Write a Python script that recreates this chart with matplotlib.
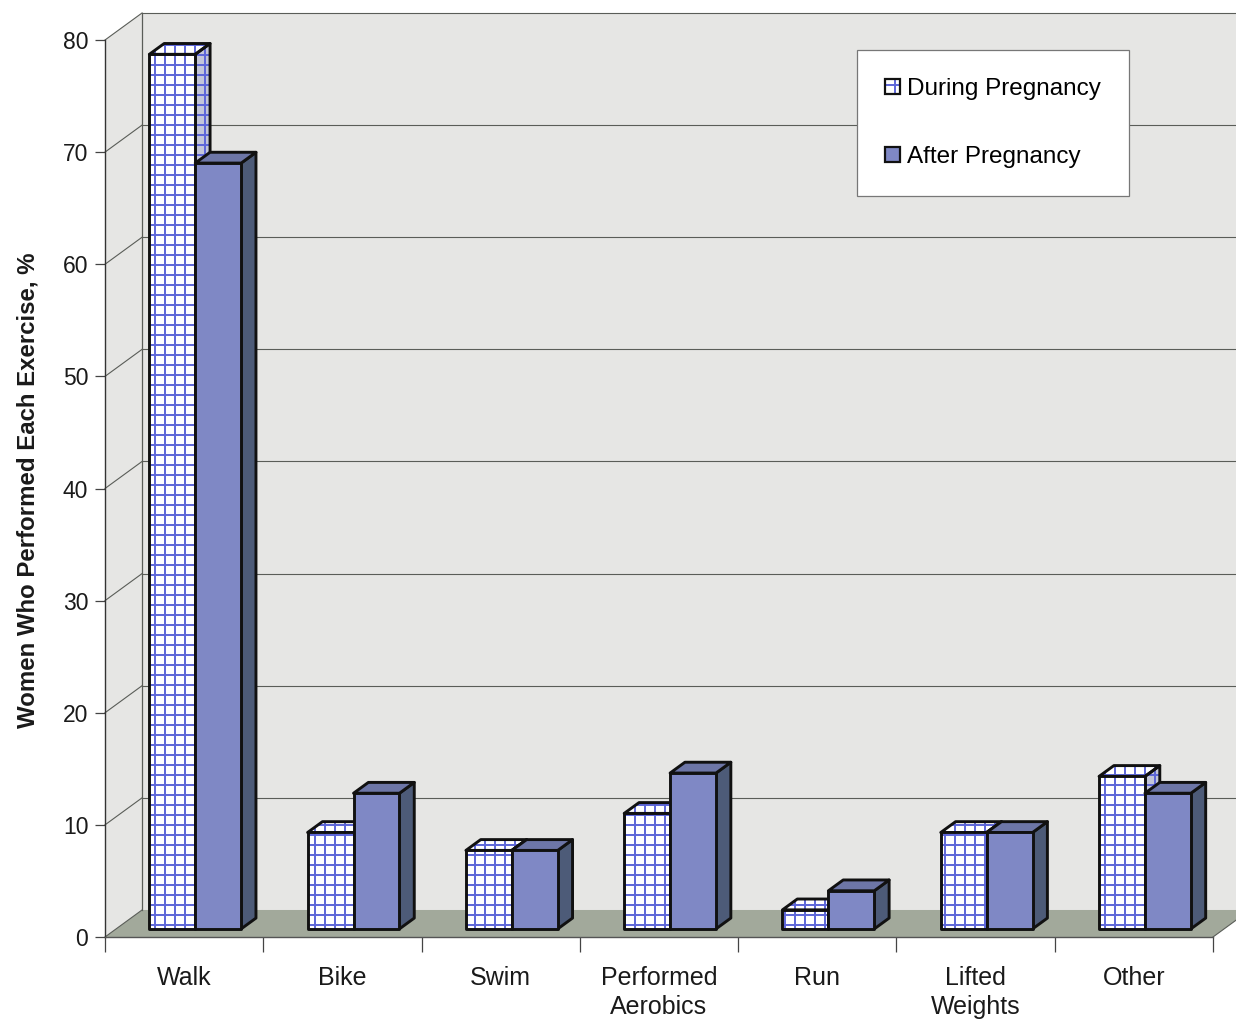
import matplotlib
matplotlib.use("Agg")
import matplotlib.pyplot as plt
from matplotlib.patches import Polygon, Patch
from matplotlib.legend_handler import HandlerTuple

# ---- data -----------------------------------------------------------------
categories = ["Walk", "Bike", "Swim", "Performed\nAerobics", "Run",
              "Lifted\nWeights", "Other"]
during = [78.0, 8.6, 7.0, 10.3, 1.7, 8.6, 13.6]
after = [68.3, 12.1, 7.0, 13.9, 3.4, 8.6, 12.1]
series_labels = ["During Pregnancy", "After Pregnancy"]
yticks = [0, 10, 20, 30, 40, 50, 60, 70, 80]
ylabel = "Women Who Performed Each Exercise, %"

# ---- style ----------------------------------------------------------------
# rendered at 120 dpi so that the "++" hatch gives a 10 px grid;
# pt() keeps sizes as they would look at 100 dpi
DPI = 120


def pt(x):
    return x * 100.0 / DPI


plt.rcParams["font.family"] = ["Liberation Sans", "DejaVu Sans"]
plt.rcParams["hatch.linewidth"] = pt(1.4)

WALL = "#e6e6e4"
FLOOR = "#a2a99b"
GRID = "#5a5d58"
HATCH_BLUE = "#5d66d8"
D_FRONT, D_TOP, D_SIDE = "white", "white", "#c3c6d9"
A_FRONT, A_TOP, A_SIDE = "#7f88c5", "#6d76a7", "#4d5b78"
EDGE = "#111111"
EDGE_LW = pt(2.1)

W, H = 1236, 1025
fig = plt.figure(figsize=(W / DPI, H / DPI), dpi=DPI)
ax = fig.add_axes([105 / W, 88 / H, 1108 / W, 897 / H])
n = len(categories)
ymax = yticks[-1]
ax.set_xlim(0, n)
ax.set_ylim(0, ymax)
ax.patch.set_visible(False)

# oblique depth of the chart box, in data units
DX, DY = 0.234, 2.41
# slab of the depth occupied by the columns
F0, F1 = 0.30, 0.70
BW = 0.29

# ---- walls and floor --------------------------------------------------------
back = Polygon([(DX, DY), (n + DX, DY), (n + DX, ymax + DY), (DX, ymax + DY)],
               closed=True, fc=WALL, ec="none", zorder=0, clip_on=False)
left = Polygon([(0, 0), (DX, DY), (DX, ymax + DY), (0, ymax)],
               closed=True, fc=WALL, ec="none", zorder=0, clip_on=False)
floor = Polygon([(0, 0), (n, 0), (n + DX, DY), (DX, DY)],
                closed=True, fc=FLOOR, ec="none", zorder=0.5, clip_on=False)
for p in (back, left, floor):
    ax.add_patch(p)

GLW = pt(0.8)
for v in yticks[1:]:
    ax.plot([DX, n + DX], [v + DY, v + DY], color=GRID, lw=GLW,
            zorder=1, clip_on=False)
    ax.plot([0, DX], [v, v + DY], color=GRID, lw=GLW, zorder=1, clip_on=False)
ax.plot([DX, DX], [DY, ymax + DY], color=GRID, lw=pt(0.9), zorder=1,
        clip_on=False)
ax.plot([0, DX], [0, DY], color=GRID, lw=GLW, zorder=1, clip_on=False)
ax.plot([n, n + DX], [0, DY], color=GRID, lw=GLW, zorder=1, clip_on=False)

# ---- 3-D columns ------------------------------------------------------------
bx0, by0 = F0 * DX, F0 * DY
ddx, ddy = (F1 - F0) * DX, (F1 - F0) * DY


def column(x_left, v, front, top, side, z, hatch=None, hatch_col=None):
    xl = x_left + bx0
    xr = xl + BW
    yb = by0
    yt = by0 + v
    side_pts = [(xr, yb), (xr + ddx, yb + ddy), (xr + ddx, yt + ddy), (xr, yt)]
    top_pts = [(xl, yt), (xr, yt), (xr + ddx, yt + ddy), (xl + ddx, yt + ddy)]
    for pts, fc in ((side_pts, side), (top_pts, top)):
        if hatch:
            ax.add_patch(Polygon(pts, closed=True, fc=fc, ec=hatch_col,
                                 hatch=hatch, lw=0, zorder=z))
            ax.add_patch(Polygon(pts, closed=True, fill=False, ec=EDGE,
                                 lw=EDGE_LW, joinstyle="round", zorder=z + 0.01))
        else:
            ax.add_patch(Polygon(pts, closed=True, fc=fc, ec=EDGE,
                                 lw=EDGE_LW, joinstyle="round", zorder=z))
    if hatch:
        ax.bar(xl, v, width=BW, bottom=yb, align="edge", color=front,
               edgecolor=hatch_col, hatch=hatch, linewidth=0, zorder=z + 0.02)
        ax.bar(xl, v, width=BW, bottom=yb, align="edge", fill=False,
               edgecolor=EDGE, linewidth=EDGE_LW, joinstyle="round",
               zorder=z + 0.03)
    else:
        ax.bar(xl, v, width=BW, bottom=yb, align="edge", color=front,
               edgecolor=EDGE, linewidth=EDGE_LW, joinstyle="round",
               zorder=z + 0.02)


for i in range(n):
    c = i + 0.5
    column(c - BW, during[i], D_FRONT, D_TOP, D_SIDE, 3 + i * 0.1,
           hatch="++", hatch_col=HATCH_BLUE)
    column(c, after[i], A_FRONT, A_TOP, A_SIDE, 3.05 + i * 0.1)

# ---- axes ---------------------------------------------------------------------
for s in ("top", "right"):
    ax.spines[s].set_visible(False)
ax.spines["left"].set_color("#333333")
ax.spines["left"].set_linewidth(pt(1.0))
ax.spines["bottom"].set_color("#555555")
ax.spines["bottom"].set_linewidth(pt(1.0))
ax.spines["left"].set_zorder(2)
ax.spines["bottom"].set_zorder(2)

ax.set_yticks(yticks)
ax.set_yticklabels([str(t) for t in yticks])
ax.tick_params(axis="y", length=pt(7), width=pt(0.9), color="#444444",
               pad=pt(5), labelsize=pt(16.5), labelcolor="#1a1a1a")

ax.set_xticks(range(n + 1))
ax.set_xticklabels([""] * (n + 1))
ax.set_xticks([i + 0.5 for i in range(n)], minor=True)
ax.set_xticklabels(categories, minor=True)
ax.tick_params(axis="x", which="major", length=pt(11), width=pt(0.9),
               color="#444444")
ax.tick_params(axis="x", which="minor", length=0, pad=pt(21),
               labelsize=pt(18), labelcolor="#1a1a1a")
for lbl in ax.get_xticklabels(minor=True):
    lbl.set_linespacing(1.25)

fig.text(28 / W, 1 - 490 / H, ylabel, rotation=90, ha="center", va="center",
         fontsize=pt(17.3), fontweight="bold", color="#1a1a1a")

# ---- legend -------------------------------------------------------------------
h_during = (Patch(fc="white", ec=HATCH_BLUE, hatch="++", lw=0),
            Patch(fill=False, ec=EDGE, lw=pt(1.6)))
h_after = Patch(fc=A_FRONT, ec=EDGE, lw=pt(1.6))
leg = ax.legend([h_during, h_after], series_labels,
                handler_map={tuple: HandlerTuple(ndivide=1)},
                loc="upper left", bbox_to_anchor=(857 / W, 1 - 50 / H),
                bbox_transform=fig.transFigure, fontsize=pt(17.5),
                handlelength=0.6, handleheight=0.6, handletextpad=0.3,
                labelspacing=1.9, borderpad=1.15, borderaxespad=0,
                fancybox=False, framealpha=1, edgecolor="#777777")
leg.get_frame().set_linewidth(pt(0.9))
leg.set_zorder(10)

fig.savefig("out.png", dpi=DPI, facecolor="white")
